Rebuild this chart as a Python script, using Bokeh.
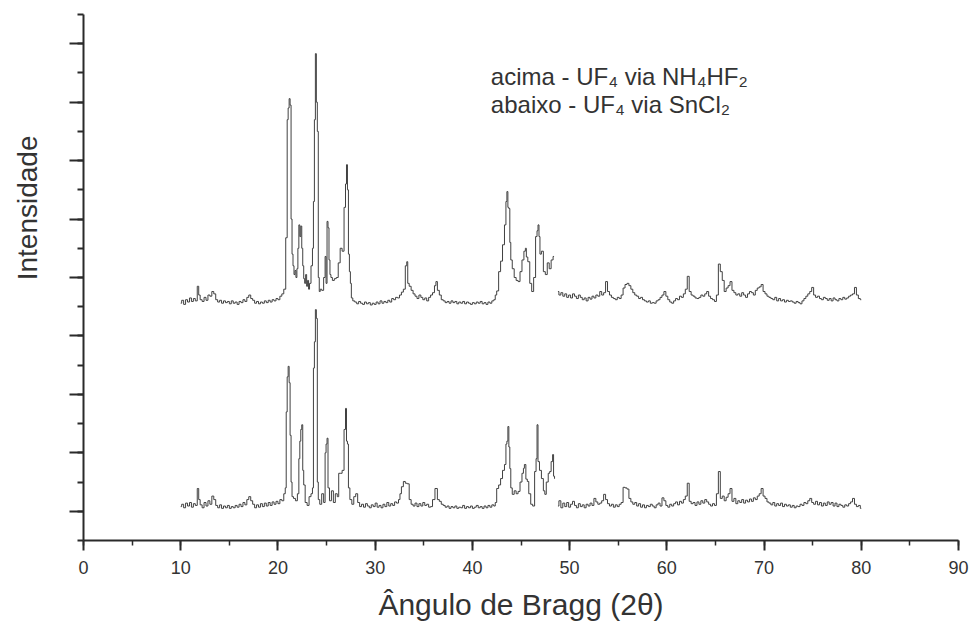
from bokeh.plotting import figure
from bokeh.models import Range1d, SingleIntervalTicker, Label, CustomJSTickFormatter, Title
from bokeh.embed import file_html
from bokeh.resources import INLINE

# ---------------- data ----------------
x_ticks_interval = 10
x_limits = [0, 90]
y_limits = [-500, 8500]

# upper pattern ("acima"), first scan segment
upper_a_2theta = [
    10.0, 10.2, 10.4, 10.6, 10.8, 11.0, 11.2, 11.4, 11.6, 11.8,
    11.9, 12.1, 12.3, 12.5, 12.7, 12.9, 13.1, 13.3, 13.5, 13.7,
    13.9, 14.1, 14.3, 14.5, 14.7, 14.9, 15.1, 15.3, 15.5, 15.7,
    15.9, 16.1, 16.3, 16.5, 16.7, 16.9, 17.1, 17.3, 17.5, 17.7,
    17.9, 18.1, 18.3, 18.5, 18.7, 18.9, 19.1, 19.3, 19.5, 19.7,
    19.9, 20.1, 20.3, 20.5, 20.7, 20.9, 21.0, 21.1, 21.2, 21.3,
    21.4, 21.5, 21.6, 21.7, 21.8, 21.9, 22.0, 22.1, 22.2, 22.3,
    22.4, 22.5, 22.6, 22.7, 22.8, 22.9, 23.0, 23.1, 23.2, 23.3,
    23.5, 23.6, 23.7, 23.8, 23.9, 24.0, 24.1, 24.2, 24.3, 24.4,
    24.6, 24.8, 24.9, 25.0, 25.1, 25.2, 25.3, 25.4, 25.5, 25.7,
    25.9, 26.1, 26.3, 26.5, 26.7, 26.9, 27.0, 27.1, 27.2, 27.3,
    27.4, 27.5, 27.6, 27.8, 28.0, 28.2, 28.4, 28.6, 28.8, 29.0,
    29.2, 29.4, 29.6, 29.8, 30.0, 30.2, 30.4, 30.6, 30.8, 31.0,
    31.2, 31.4, 31.6, 31.8, 32.0, 32.2, 32.4, 32.6, 32.8, 33.0,
    33.2, 33.3, 33.4, 33.6, 33.8, 34.0, 34.2, 34.4, 34.6, 34.8,
    35.0, 35.2, 35.4, 35.6, 35.8, 36.0, 36.2, 36.3, 36.5, 36.7,
    36.9, 37.1, 37.3, 37.5, 37.7, 37.9, 38.1, 38.3, 38.5, 38.7,
    38.9, 39.1, 39.3, 39.5, 39.7, 39.9, 40.1, 40.3, 40.5, 40.7,
    40.9, 41.1, 41.3, 41.5, 41.7, 41.9, 42.1, 42.3, 42.4, 42.6,
    42.8, 43.0, 43.2, 43.4, 43.5, 43.6, 43.7, 43.8, 43.9, 44.0,
    44.2, 44.4, 44.6, 44.8, 45.0, 45.2, 45.4, 45.5, 45.6, 45.8,
    46.0, 46.2, 46.4, 46.6, 46.7, 46.8, 46.9, 47.0, 47.2, 47.4,
    47.6, 47.8, 48.0, 48.2, 48.4,
]
upper_a_counts = [
    3560, 3610, 3540, 3620, 3580, 3650, 3590, 3640, 3600, 3850,
    3700, 3620, 3590, 3660, 3610, 3700, 3680, 3760, 3720, 3620,
    3580, 3610, 3560, 3600, 3570, 3590, 3550, 3600, 3560, 3580,
    3540, 3590, 3570, 3620, 3590, 3660, 3700, 3640, 3610, 3560,
    3590, 3550, 3580, 3560, 3600, 3570, 3610, 3580, 3620, 3600,
    3640, 3620, 3680, 3720, 3800, 4680, 6700, 6900, 7060, 6950,
    5000, 4400, 4200, 4050, 4120, 4000, 4150, 4500, 4900, 4700,
    4880, 4500, 4200, 3980, 3900, 4050, 3850, 3950, 3800, 3900,
    4200, 4500, 5300, 6700, 7830, 7000, 6500, 4000, 3760, 3800,
    3780, 4000, 4360, 3900, 4960, 4850, 4300, 4050, 4000, 3950,
    3980, 4000, 4250, 4500, 4450, 5200, 5600, 5930, 5500, 4400,
    4100, 3900, 3650, 3600, 3580, 3550, 3590, 3560, 3540, 3580,
    3550, 3570, 3530, 3560, 3540, 3580, 3550, 3600, 3560, 3590,
    3570, 3610, 3580, 3640, 3620, 3660, 3650, 3700, 3750, 3800,
    4200, 4270, 3900, 3850, 3780, 3720, 3680, 3640, 3700, 3660,
    3620, 3650, 3600, 3660, 3700, 3740, 3860, 3930, 3780, 3700,
    3620, 3600, 3570, 3590, 3560, 3600, 3570, 3590, 3550, 3580,
    3560, 3590, 3550, 3580, 3560, 3540, 3570, 3550, 3580, 3560,
    3590, 3550, 3570, 3540, 3580, 3560, 3600, 3620, 3700, 3770,
    4100, 4280, 4560, 4900, 5300, 5470, 5200, 5180, 4600, 4300,
    4150, 4000, 3950, 3930, 4100, 4300, 4450, 4500, 4350, 4270,
    3900, 3760, 4000, 4700, 4800, 4900, 4700, 4400, 4450, 4100,
    4050, 4250, 4150, 4300, 4360,
]

# upper pattern, second scan segment
upper_b_2theta = [
    48.8, 49.0, 49.2, 49.4, 49.6, 49.8, 50.0, 50.2, 50.4, 50.6,
    50.8, 51.0, 51.2, 51.4, 51.6, 51.8, 52.0, 52.2, 52.4, 52.6,
    52.8, 53.0, 53.2, 53.4, 53.6, 53.8, 54.0, 54.2, 54.4, 54.6,
    54.8, 55.0, 55.2, 55.4, 55.6, 55.8, 56.0, 56.2, 56.4, 56.6,
    56.8, 57.0, 57.2, 57.4, 57.6, 57.8, 58.0, 58.2, 58.4, 58.6,
    58.8, 59.0, 59.2, 59.4, 59.6, 59.8, 60.0, 60.2, 60.4, 60.6,
    60.8, 61.0, 61.2, 61.4, 61.6, 61.8, 62.0, 62.2, 62.4, 62.6,
    62.8, 63.0, 63.2, 63.4, 63.6, 63.8, 64.0, 64.2, 64.4, 64.6,
    64.8, 65.0, 65.2, 65.4, 65.6, 65.8, 66.0, 66.2, 66.4, 66.6,
    66.8, 67.0, 67.2, 67.4, 67.6, 67.8, 68.0, 68.2, 68.4, 68.6,
    68.8, 69.0, 69.2, 69.4, 69.6, 69.8, 70.0, 70.2, 70.4, 70.6,
    70.8, 71.0, 71.2, 71.4, 71.6, 71.8, 72.0, 72.2, 72.4, 72.6,
    72.8, 73.0, 73.2, 73.4, 73.6, 73.8, 74.0, 74.2, 74.4, 74.6,
    74.8, 75.0, 75.2, 75.4, 75.6, 75.8, 76.0, 76.2, 76.4, 76.6,
    76.8, 77.0, 77.2, 77.4, 77.6, 77.8, 78.0, 78.2, 78.4, 78.6,
    78.8, 79.0, 79.2, 79.4, 79.6, 79.8, 80.0,
]
upper_b_counts = [
    3760, 3700, 3740, 3680, 3720, 3660, 3700, 3650, 3720, 3680,
    3640, 3700, 3660, 3620, 3650, 3600, 3660, 3630, 3680, 3650,
    3700, 3680, 3760, 3700, 3740, 3930, 3760, 3700, 3660, 3640,
    3620, 3660, 3640, 3700, 3820, 3880, 3900, 3860, 3800, 3740,
    3700, 3680, 3640, 3660, 3620, 3600, 3580, 3600, 3560, 3570,
    3560, 3600, 3620, 3660, 3700, 3760, 3680, 3620, 3580, 3560,
    3600, 3640, 3620, 3680, 3660, 3720, 3800, 4020, 3760, 3700,
    3680, 3650, 3640, 3660, 3700, 3680, 3720, 3760, 3680, 3640,
    3620, 3590, 3700, 4230, 4100, 3950, 3760, 3820, 3860, 3930,
    3780, 3740, 3700, 3720, 3680, 3740, 3700, 3660, 3720, 3760,
    3740, 3700, 3780, 3820, 3840, 3880, 3760, 3720, 3680, 3660,
    3640, 3620, 3660, 3600, 3640, 3600, 3620, 3580, 3610, 3590,
    3600, 3580, 3560, 3590, 3570, 3550, 3600, 3640, 3680, 3720,
    3760, 3830, 3700, 3660, 3680, 3640, 3620, 3660, 3640, 3610,
    3640, 3600, 3650, 3620, 3600, 3640, 3620, 3660, 3630, 3650,
    3680, 3700, 3720, 3830, 3700, 3640, 3620,
]

# lower pattern ("abaixo"), first scan segment
lower_a_2theta = [
    10.0, 10.2, 10.4, 10.6, 10.8, 11.0, 11.2, 11.4, 11.6, 11.8,
    11.9, 12.1, 12.3, 12.5, 12.7, 12.9, 13.1, 13.3, 13.5, 13.7,
    13.9, 14.1, 14.3, 14.5, 14.7, 14.9, 15.1, 15.3, 15.5, 15.7,
    15.9, 16.1, 16.3, 16.5, 16.7, 16.9, 17.1, 17.3, 17.5, 17.7,
    17.9, 18.1, 18.3, 18.5, 18.7, 18.9, 19.1, 19.3, 19.5, 19.7,
    19.9, 20.1, 20.3, 20.5, 20.7, 20.8, 20.9, 21.0, 21.1, 21.2,
    21.3, 21.4, 21.5, 21.7, 21.9, 22.1, 22.2, 22.3, 22.4, 22.5,
    22.6, 22.7, 22.9, 23.1, 23.3, 23.5, 23.6, 23.7, 23.8, 23.9,
    24.0, 24.1, 24.2, 24.4, 24.6, 24.8, 24.9, 25.0, 25.1, 25.2,
    25.4, 25.6, 25.8, 26.0, 26.2, 26.3, 26.5, 26.7, 26.9, 27.0,
    27.1, 27.2, 27.3, 27.5, 27.7, 27.9, 28.1, 28.3, 28.5, 28.7,
    28.9, 29.1, 29.3, 29.5, 29.7, 29.9, 30.1, 30.3, 30.5, 30.7,
    30.9, 31.1, 31.3, 31.5, 31.7, 31.9, 32.1, 32.3, 32.5, 32.6,
    32.8, 33.0, 33.2, 33.4, 33.6, 33.8, 34.0, 34.2, 34.4, 34.6,
    34.8, 35.0, 35.2, 35.4, 35.6, 35.8, 36.0, 36.3, 36.5, 36.7,
    36.9, 37.1, 37.3, 37.5, 37.7, 37.9, 38.1, 38.3, 38.5, 38.7,
    38.9, 39.1, 39.3, 39.5, 39.7, 39.9, 40.1, 40.3, 40.5, 40.7,
    40.9, 41.1, 41.3, 41.5, 41.7, 41.9, 42.1, 42.3, 42.4, 42.6,
    42.8, 43.0, 43.2, 43.4, 43.5, 43.6, 43.7, 43.8, 43.9, 44.0,
    44.2, 44.4, 44.6, 44.8, 45.0, 45.2, 45.3, 45.4, 45.6, 45.7,
    45.9, 46.1, 46.3, 46.5, 46.6, 46.7, 46.8, 47.0, 47.2, 47.4,
    47.5, 47.7, 47.9, 48.0, 48.2, 48.3, 48.4, 48.5,
]
lower_a_counts = [
    80, 120, 60, 140, 90, 150, 70, 130, 100, 390,
    200, 110, 60, 150, 90, 180, 120, 260, 200, 100,
    60, 110, 50, 90, 60, 100, 50, 80, 60, 100,
    70, 120, 80, 150, 110, 200, 250, 180, 120, 60,
    110, 70, 130, 80, 140, 90, 150, 100, 160, 120,
    170, 130, 200, 180, 300, 400, 1700, 2300, 2480, 2200,
    1300, 500, 250, 220, 180, 300, 900, 1200, 1400, 1480,
    700, 450, 150, 100, 250, 300, 400, 2450, 2900, 3450,
    3300, 500, 200, 120, 300, 150, 1000, 1150, 1250, 400,
    180, 350, 150, 300, 250, 650, 650, 700, 1400, 1760,
    1200, 1150, 400, 200, 120, 250, 300, 150, 80, 120,
    70, 130, 90, 60, 110, 80, 140, 70, 100, 60,
    120, 80, 150, 90, 130, 100, 160, 140, 200, 300,
    420, 510, 480, 470, 200, 120, 90, 140, 80, 130,
    90, 150, 100, 120, 70, 80, 200, 390, 200, 170,
    120, 100, 70, 90, 50, 80, 60, 90, 50, 70,
    60, 100, 50, 80, 60, 90, 50, 70, 100, 60,
    80, 50, 90, 60, 100, 70, 110, 90, 150, 390,
    450, 560, 700, 800, 1150, 1200, 1450, 1100, 730, 400,
    290, 350, 300, 340, 500, 650, 735, 800, 550, 510,
    300, 120, 90, 680, 900, 1480, 850, 700, 560, 350,
    290, 500, 650, 680, 850, 970, 600, 560,
]

# lower pattern, second scan segment
lower_b_2theta = [
    48.8, 49.0, 49.2, 49.4, 49.6, 49.8, 50.0, 50.2, 50.4, 50.6,
    50.8, 51.0, 51.2, 51.4, 51.6, 51.8, 52.0, 52.2, 52.4, 52.6,
    52.8, 53.0, 53.2, 53.4, 53.6, 53.8, 54.0, 54.2, 54.4, 54.6,
    54.8, 55.0, 55.2, 55.4, 55.6, 55.8, 56.0, 56.2, 56.4, 56.6,
    56.8, 57.0, 57.2, 57.4, 57.6, 57.8, 58.0, 58.2, 58.4, 58.6,
    58.8, 59.0, 59.2, 59.4, 59.6, 59.8, 60.0, 60.2, 60.4, 60.6,
    60.8, 61.0, 61.2, 61.4, 61.6, 61.8, 62.0, 62.2, 62.4, 62.6,
    62.8, 63.0, 63.2, 63.4, 63.6, 63.8, 64.0, 64.2, 64.4, 64.6,
    64.8, 65.0, 65.2, 65.4, 65.6, 65.8, 66.0, 66.2, 66.4, 66.6,
    66.8, 67.0, 67.2, 67.4, 67.6, 67.8, 68.0, 68.2, 68.4, 68.6,
    68.8, 69.0, 69.2, 69.4, 69.6, 69.8, 70.0, 70.2, 70.4, 70.6,
    70.8, 71.0, 71.2, 71.4, 71.6, 71.8, 72.0, 72.2, 72.4, 72.6,
    72.8, 73.0, 73.2, 73.4, 73.6, 73.8, 74.0, 74.2, 74.4, 74.6,
    74.8, 75.0, 75.2, 75.4, 75.6, 75.8, 76.0, 76.2, 76.4, 76.6,
    76.8, 77.0, 77.2, 77.4, 77.6, 77.8, 78.0, 78.2, 78.4, 78.6,
    78.8, 79.0, 79.2, 79.4, 79.6, 79.8, 80.0,
]
lower_b_counts = [
    90, 180, 60, 140, 80, 150, 70, 120, 170, 100,
    60, 130, 80, 110, 60, 120, 90, 140, 100, 220,
    160, 120, 140, 180, 290, 200, 130, 90, 120, 70,
    110, 80, 120, 150, 410, 400, 380, 220, 160, 120,
    150, 90, 130, 70, 110, 60, 100, 80, 120, 90,
    60, 110, 140, 90, 230, 180, 100, 70, 120, 90,
    130, 160, 110, 170, 140, 200, 260, 480, 170, 130,
    150, 100, 160, 120, 180, 140, 200, 160, 120, 90,
    130, 100, 300, 680, 220, 260, 180, 240, 300, 390,
    170, 220, 130, 180, 150, 200, 140, 190, 160, 210,
    170, 230, 200, 260, 300, 390, 260, 220, 160, 140,
    110, 150, 90, 130, 100, 140, 80, 120, 90, 110,
    70, 100, 60, 90, 80, 120, 100, 150, 130, 180,
    220, 150, 120, 170, 110, 150, 90, 140, 100, 160,
    120, 150, 90, 140, 80, 120, 100, 70, 110, 90,
    130, 160, 220, 120, 80, 100, 50,
]

x_title = "Ângulo de Bragg (2θ)"
y_title = "Intensidade"
legend_lines = ["acima - UF₄ via NH₄HF₂", "abaixo - UF₄ via SnCl₂"]

# ---------------- figure ----------------
FONT = "Liberation Sans"
INK = "#2a2a2a"
TXT = "#333333"

p = figure(width=972, height=623, output_backend="svg", toolbar_location=None,
           x_range=Range1d(*x_limits), y_range=Range1d(*y_limits),
           min_border_left=83, min_border_right=14, min_border_top=14,
           min_border_bottom=83)
p.background_fill_color = "white"
p.border_fill_color = "white"
p.outline_line_color = None
p.xgrid.visible = False
p.ygrid.visible = False

for xs, ys in [(upper_a_2theta, upper_a_counts), (upper_b_2theta, upper_b_counts),
               (lower_a_2theta, lower_a_counts), (lower_b_2theta, lower_b_counts)]:
    p.step(xs, ys, mode="center", line_color="#404040", line_width=1)

xa = p.xaxis[0]
xa.ticker = SingleIntervalTicker(interval=x_ticks_interval, num_minor_ticks=2)
xa.axis_line_width = 2
xa.axis_line_color = INK
xa.major_tick_line_width = 2
xa.major_tick_line_color = INK
xa.minor_tick_line_width = 1.5
xa.minor_tick_line_color = INK
xa.major_tick_in = 0
xa.major_tick_out = 10
xa.minor_tick_in = 0
xa.minor_tick_out = 5
xa.major_label_standoff = 10
xa.major_label_text_font = FONT
xa.major_label_text_font_size = "18px"
xa.major_label_text_color = TXT
xa.axis_label = x_title
xa.axis_label_text_font = FONT
xa.axis_label_text_font_size = "30px"
xa.axis_label_text_font_style = "normal"
xa.axis_label_text_color = TXT
xa.axis_label_standoff = 11

ya = p.yaxis[0]
ya.ticker = SingleIntervalTicker(interval=1000, num_minor_ticks=2)
# the original y axis has ticks but no numbers; a blank label keeps the room
ya.formatter = CustomJSTickFormatter(code="return ' '")
ya.major_label_standoff = 9
ya.axis_line_width = 2
ya.axis_line_color = INK
ya.major_tick_line_width = 2
ya.major_tick_line_color = INK
ya.minor_tick_line_width = 2
ya.minor_tick_line_color = INK
ya.major_tick_in = 0
ya.major_tick_out = 14
ya.minor_tick_in = 0
ya.minor_tick_out = 6

# y title, placed on the left side above the centre (as in the original)
p.add_layout(Title(text=y_title, align="right", offset=121, vertical_align="top",
                   standoff=20, text_font=FONT, text_font_size="28px",
                   text_font_style="normal", text_color=TXT), "left")

# legend text
p.add_layout(Label(x=41.9, y=7440, text=legend_lines[0], text_align="left",
                   text_baseline="middle", text_font=FONT,
                   text_font_size="24px", text_color=TXT))
p.add_layout(Label(x=41.9, y=6960, text=legend_lines[1], text_align="left",
                   text_baseline="middle", text_font=FONT,
                   text_font_size="24px", text_color=TXT))

open("out.html", "w").write(file_html(p, INLINE))
